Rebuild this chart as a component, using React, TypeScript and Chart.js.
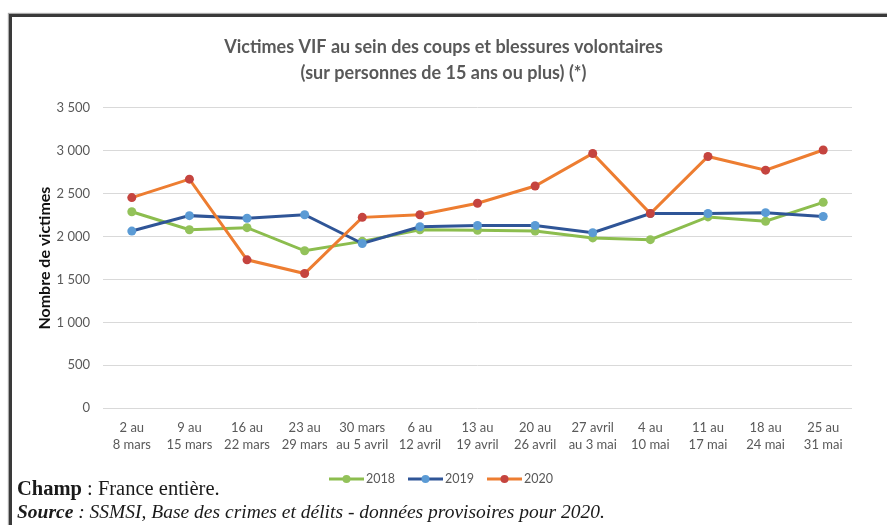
import React, { useEffect, useRef } from "react";
import { Chart, registerables } from "chart.js";

Chart.register(...registerables);

const categories: string[][] = [
  ["2 au", "8 mars"],
  ["9 au", "15 mars"],
  ["16 au", "22 mars"],
  ["23 au", "29 mars"],
  ["30 mars", "au 5 avril"],
  ["6 au", "12 avril"],
  ["13 au", "19 avril"],
  ["20 au", "26 avril"],
  ["27 avril", "au 3 mai"],
  ["4 au", "10 mai"],
  ["11 au", "17 mai"],
  ["18 au", "24 mai"],
  ["25 au", "31 mai"],
];

const values2018 = [2290, 2080, 2105, 1835, 1945, 2080, 2075, 2065, 1985, 1965, 2230, 2180, 2400];
const values2019 = [2065, 2245, 2215, 2255, 1920, 2115, 2130, 2130, 2045, 2270, 2270, 2280, 2235];
const values2020 = [2455, 2670, 1730, 1570, 2225, 2255, 2390, 2590, 2970, 2270, 2935, 2775, 3010];

const seriesNames = ["2018", "2019", "2020"];
const yTickValues = [0, 500, 1000, 1500, 2000, 2500, 3000, 3500];
const titleLines = [
  "Victimes VIF au sein des coups et blessures volontaires",
  "(sur personnes de 15 ans ou plus) (*)",
];
const yAxisTitle = "Nombre de victimes";

const FONT = "Lato, 'Open Sans', sans-serif";
const GRAY = "#595959";

const fmt = (v: number) => {
  const s = String(Math.round(v));
  return s.replace(/\B(?=(\d{3})+(?!\d))/g, " ");
};

const legendPlugin = {
  id: "lineLegend",
  afterDraw(chart: any) {
    const ctx = chart.ctx;
    const ds = chart.data.datasets;
    const lineW = 35;
    const gap = 2;
    const itemGap = 13;
    ctx.save();
    ctx.font = `12.5px ${FONT}`;
    const widths = ds.map((d: any) => lineW + gap + ctx.measureText(d.label).width);
    const total = widths.reduce((a: number, b: number) => a + b, 0) + itemGap * (ds.length - 1);
    let x = 441 - total / 2;
    const y = 479;
    ds.forEach((d: any, i: number) => {
      ctx.strokeStyle = d.borderColor;
      ctx.lineWidth = 3;
      ctx.beginPath();
      ctx.moveTo(x, y);
      ctx.lineTo(x + lineW, y);
      ctx.stroke();
      ctx.fillStyle = d.pointBackgroundColor;
      ctx.beginPath();
      ctx.arc(x + lineW / 2, y, 4, 0, Math.PI * 2);
      ctx.fill();
      ctx.fillStyle = GRAY;
      ctx.textBaseline = "middle";
      ctx.textAlign = "left";
      ctx.fillText(d.label, x + lineW + gap, y);
      x += widths[i] + itemGap;
    });
    ctx.restore();
  },
};

export default function App() {
  const ref = useRef<HTMLCanvasElement | null>(null);

  useEffect(() => {
    if (!ref.current) return;
    const mk = (label: string, data: number[], line: string, pt: string, order: number) => ({
      label,
      data,
      borderColor: line,
      backgroundColor: pt,
      pointBackgroundColor: pt,
      pointBorderColor: pt,
      borderWidth: 3,
      pointRadius: 4.5,
      pointBorderWidth: 0,
      tension: 0,
      order,
    });
    const chart = new Chart(ref.current, {
      type: "line",
      data: {
        labels: categories,
        datasets: [
          mk(seriesNames[0], values2018, "#8cbd4e", "#93c25a", 3),
          mk(seriesNames[1], values2019, "#2f5597", "#5b9bd5", 2),
          mk(seriesNames[2], values2020, "#ed7d31", "#c5443f", 1),
        ],
      },
      options: {
        animation: false,
        responsive: false,
        maintainAspectRatio: false,
        layout: { padding: { left: 35, right: 35, top: 34, bottom: 69 } },
        plugins: {
          legend: { display: false },
          tooltip: { enabled: false },
          title: {
            display: true,
            text: titleLines,
            color: GRAY,
            font: { family: FONT, size: 18, weight: "bold", lineHeight: 1.444 },
            padding: { top: 0, bottom: 22 },
          },
        },
        scales: {
          x: {
            offset: true,
            grid: { display: false, offset: true },
            border: { display: false },
            ticks: {
              color: GRAY,
              font: { family: FONT, size: 13, lineHeight: 1.3 },
              padding: 3,
              maxRotation: 0,
              autoSkip: false,
            },
          },
          y: {
            min: 0,
            max: 3500,
            afterFit: (s: any) => {
              s.width = 68;
            },
            afterBuildTicks: (s: any) => {
              s.ticks = yTickValues.map((v) => ({ value: v }));
            },
            grid: { color: "#d9d9d9", lineWidth: 1, drawTicks: false },
            border: { display: false },
            ticks: {
              color: GRAY,
              font: { family: FONT, size: 13 },
              padding: 13,
              callback: (v: any) => fmt(Number(v)),
            },
            title: {
              display: true,
              text: yAxisTitle,
              color: "#111",
              font: { family: FONT, size: 16, weight: "bold" },
              padding: { top: 0, bottom: 0 },
            },
          },
        },
      },
      plugins: [legendPlugin],
    });
    return () => chart.destroy();
  }, []);

  return (
    <div style={{ position: "absolute", left: 0, top: 0, width: 887, height: 525, background: "#fff", overflow: "hidden" }}>
      <div
        style={{
          position: "absolute",
          left: 9,
          top: 14,
          width: 890,
          height: 520,
          borderLeft: "3px solid #3a3a3a",
          borderTop: "3px solid #3a3a3a",
          boxShadow: "-1px -1px 1px #aaa",
        }}
      />
      <canvas ref={ref} width={887} height={525} style={{ position: "absolute", left: 0, top: 0, width: 887, height: 525 }} />
      <div
        style={{
          position: "absolute",
          left: 17,
          top: 476,
          fontFamily: "'Liberation Serif', 'DejaVu Serif', serif",
          lineHeight: "24px",
          color: "#1a1a1a",
          whiteSpace: "nowrap",
        }}
      >
        <div style={{ fontSize: 20.5 }}>
          <b>Champ</b> : France entière.
        </div>
        <div style={{ fontStyle: "italic", fontSize: 19.5 }}>
          <b>Source</b> : SSMSI, Base des crimes et délits - données provisoires pour 2020.
        </div>
      </div>
    </div>
  );
}
